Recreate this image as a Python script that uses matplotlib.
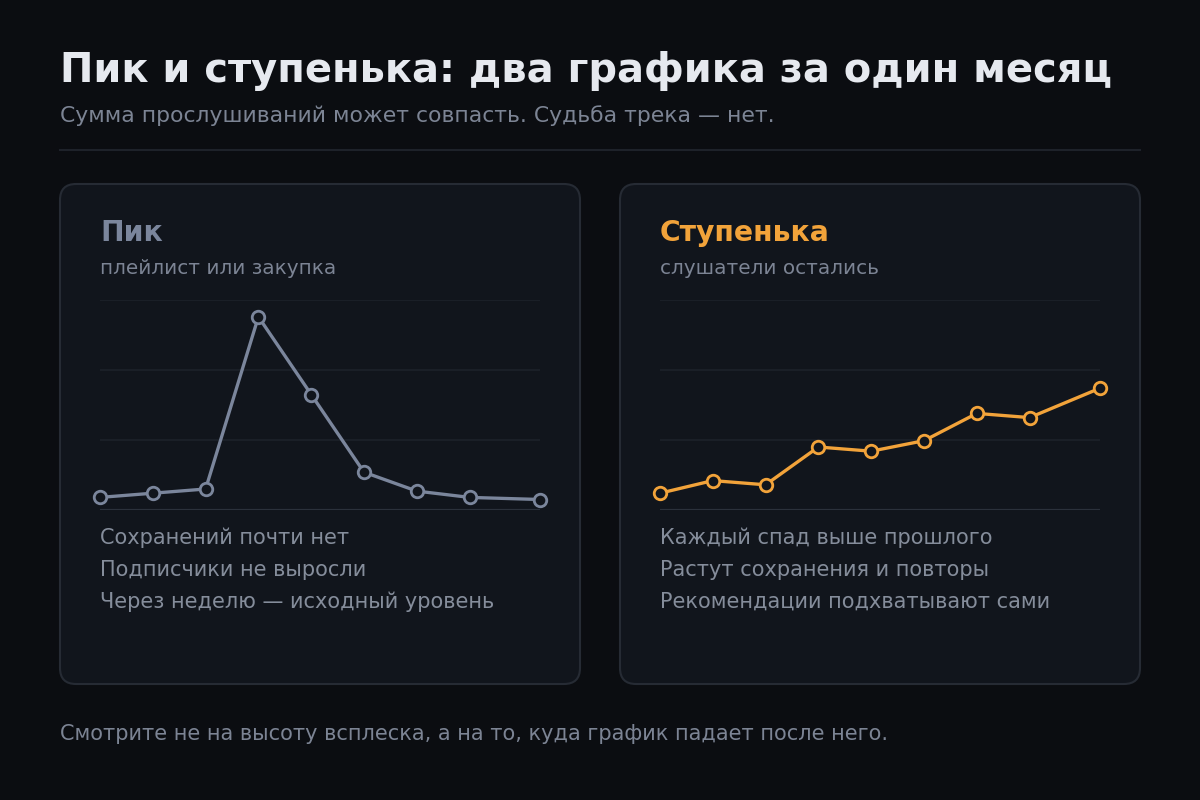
import numpy as np
import matplotlib
matplotlib.use("Agg")
import matplotlib.pyplot as plt
from matplotlib.patches import FancyBboxPatch

# ---------------- data ----------------
days = [0, 3, 6, 9, 12, 15, 18, 21, 25]
peak = [6, 8, 10, 92, 55, 18, 9, 6, 5]
step = [8, 14, 12, 30, 28, 33, 46, 44, 58]

title = "Пик и ступенька: два графика за один месяц"
subtitle = "Сумма прослушиваний может совпасть. Судьба трека — нет."
footer = "Смотрите не на высоту всплеска, а на то, куда график падает после него."

cards = [
    {"name": "Пик", "sub": "плейлист или закупка",
     "notes": ["Сохранений почти нет", "Подписчики не выросли",
               "Через неделю — исходный уровень"]},
    {"name": "Ступенька", "sub": "слушатели остались",
     "notes": ["Каждый спад выше прошлого", "Растут сохранения и повторы",
               "Рекомендации подхватывают сами"]},
]
series = [peak, step]

# ---------------- style ----------------
BG = "#0b0d11"
CARD = "#11151c"
CARD_EDGE = "#262b34"
GRID = "#1a1f27"
BASE = "#2b313b"
TXT = "#e6e9ef"
MUTED = "#7c8494"
NOTE = "#858d9b"
SLATE = "#7b869c"
ORANGE = "#f2a33a"
colors = [SLATE, ORANGE]

plt.rcParams["font.family"] = ["DejaVu Sans"]

W, H = 1200, 800
fig = plt.figure(figsize=(12, 8), dpi=100, facecolor=BG)
bg = fig.add_axes([0, 0, 1, 1])
bg.set_xlim(0, W)
bg.set_ylim(0, H)
bg.axis("off")
bg.set_facecolor(BG)


def Y(y):
    return H - y


def px(v):
    # pixels -> points
    return v * 72 / 100


bg.text(60, Y(82), title, fontsize=px(40), fontweight="bold", color=TXT, va="baseline")
bg.text(60, Y(122), subtitle, fontsize=px(21.9), color=MUTED, va="baseline")
bg.plot([60, 1140], [Y(150), Y(150)], color="#1e222a", lw=1.5)
bg.text(60, Y(740), footer, fontsize=px(20.9), color=MUTED, va="baseline")

for i, card in enumerate(cards):
    x0 = 60 + i * 560
    box = FancyBboxPatch((x0, Y(684)), 520, 500,
                         boxstyle="round,pad=0,rounding_size=16",
                         fc=CARD, ec=CARD_EDGE, lw=1.5)
    bg.add_patch(box)
    name_col = colors[i]
    bg.text(x0 + 40, Y(241), card["name"], fontsize=px(28.2), fontweight="bold",
            color=name_col, va="baseline")
    bg.text(x0 + 40, Y(274), card["sub"], fontsize=px(20), color=MUTED, va="baseline")
    for k, note in enumerate(card["notes"]):
        bg.text(x0 + 40, Y(544 + 32 * k), note, fontsize=px(20.9), color=NOTE, va="baseline")

    # chart area
    ax = fig.add_axes([(x0 + 40) / W, (H - 510) / H, 440 / W, 210 / H])
    ax.set_facecolor("none")
    ax.set_xlim(days[0], days[-1])
    ax.set_ylim(0, 100)
    for g in np.linspace(0, 100, 4)[1:]:
        ax.axhline(g, color=GRID, lw=1.5, zorder=1)
    ax.axhline(0, color=BASE, lw=px(2.2), zorder=1)
    ax.plot(days, series[i], color=colors[i], lw=px(3.3), zorder=3, clip_on=False,
            marker="o", markersize=px(12.5), markerfacecolor=CARD,
            markeredgecolor=colors[i], markeredgewidth=px(2.8))
    for s in ax.spines.values():
        s.set_visible(False)
    ax.set_xticks([])
    ax.set_yticks([])

fig.savefig("out.png", dpi=100, facecolor=BG)
